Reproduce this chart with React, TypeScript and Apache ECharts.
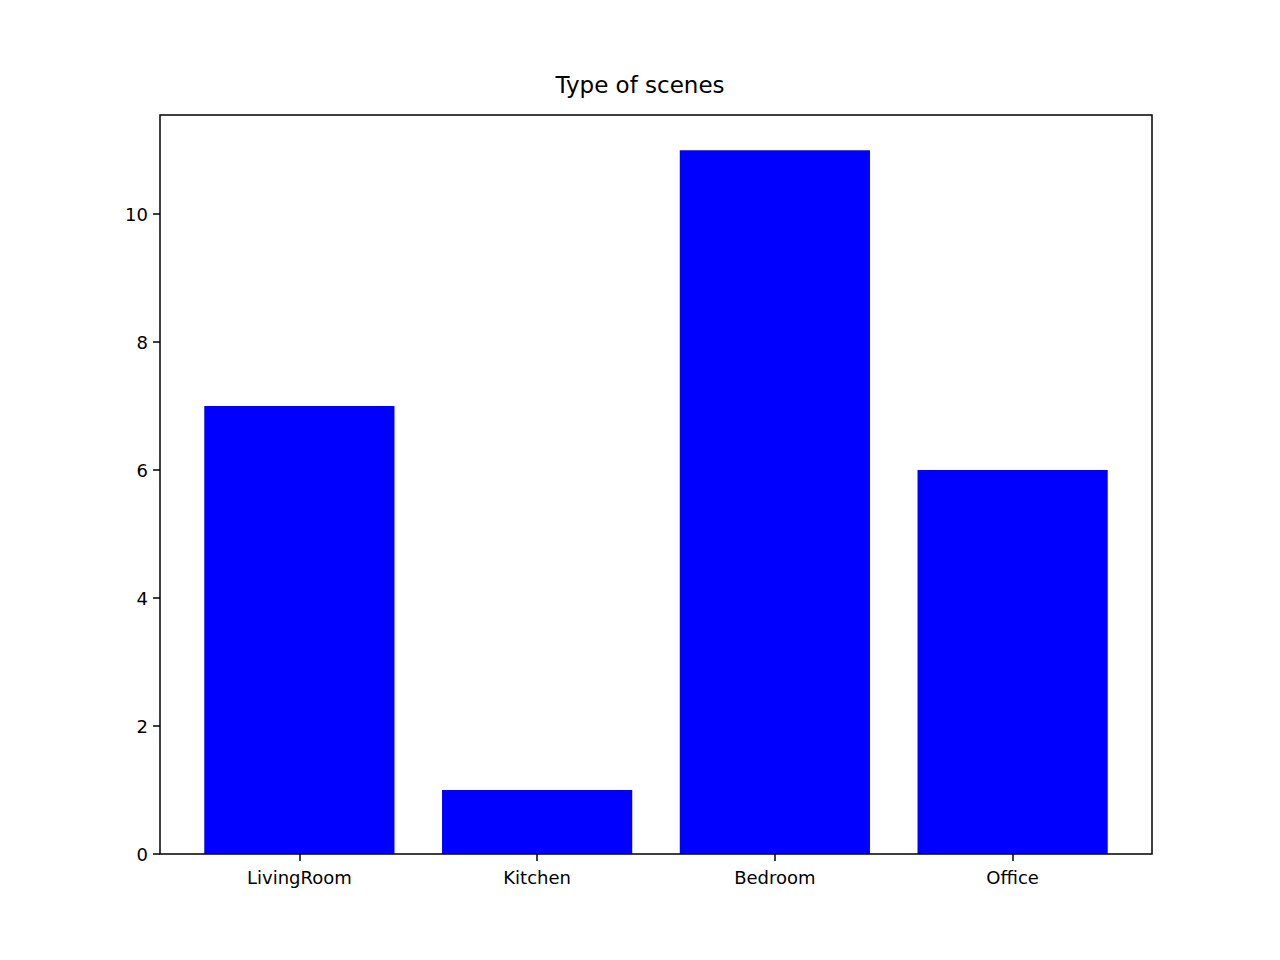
import { useEffect, useRef } from "react";
import * as echarts from "echarts";

const categories = ["LivingRoom", "Kitchen", "Bedroom", "Office"];
const counts = [7, 1, 11, 6];
const yTicks = [0, 2, 4, 6, 8, 10];

export default function App() {
  const chartRef = useRef<HTMLDivElement>(null);

  useEffect(() => {
    if (!chartRef.current) return;
    const chart = echarts.init(chartRef.current, null, { renderer: "svg" });
    const font = "DejaVu Sans";
    chart.setOption({
      animation: false,
      textStyle: { fontFamily: font },
      title: {
        text: "Type of scenes",
        left: "center",
        top: 68,
        textStyle: { fontFamily: font, fontSize: 23, fontWeight: "normal", color: "#000" },
      },
      // plot area spans 160..1152 horizontally; categories sit inside matplotlib-style margins
      grid: { left: 180.5, right: 148.5, top: 115, bottom: 106 },
      xAxis: {
        type: "category",
        data: categories,
        axisLine: { show: false },
        axisTick: { show: true, alignWithLabel: true, length: 7, lineStyle: { color: "#000", width: 1.5 } },
        axisLabel: { color: "#000", fontSize: 18, margin: 14 },
      },
      yAxis: {
        type: "value",
        min: 0,
        max: 11.55,
        interval: 2,
        offset: 20.5,
        splitLine: { show: false },
        axisLine: { show: false },
        axisTick: { show: true, length: 7, lineStyle: { color: "#000", width: 1.5 } },
        axisLabel: {
          color: "#000",
          fontSize: 18,
          margin: 12,
          showMaxLabel: false,
          formatter: (v: number) => (yTicks.includes(v) ? String(v) : ""),
        },
      },
      graphic: [
        {
          type: "rect",
          shape: { x: 160, y: 115, width: 992, height: 739 },
          style: { fill: "none", stroke: "#000", lineWidth: 1.5 },
          z: 100,
        },
      ],
      series: [
        {
          type: "bar",
          data: counts,
          barWidth: "80%",
          itemStyle: { color: "#0000ff" },
        },
      ],
    });
    return () => chart.dispose();
  }, []);

  return (
    <div
      ref={chartRef}
      style={{ position: "fixed", left: 0, top: 0, width: 1280, height: 960, background: "#fff" }}
    />
  );
}
